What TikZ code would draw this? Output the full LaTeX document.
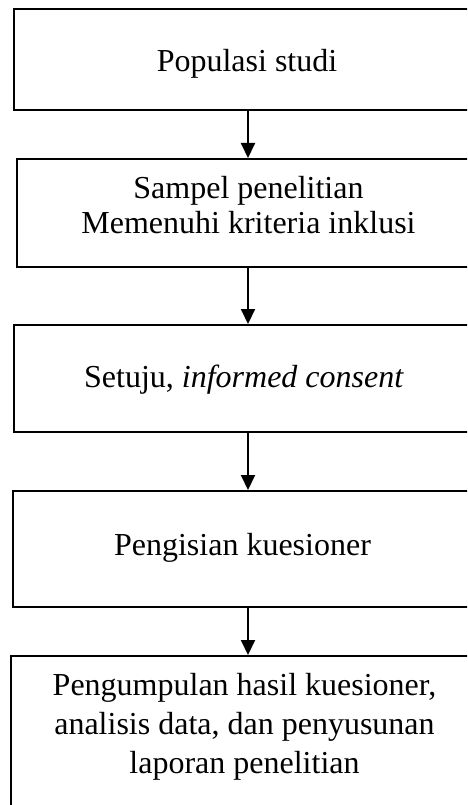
\documentclass[tikz,border=0pt]{standalone}
\usepackage{fontspec}
\setmainfont{Liberation Serif}
\usetikzlibrary{arrows.meta}
\tikzset{
  box/.style={draw=black, line width=2pt, rectangle, inner sep=0pt},
  txt/.style={anchor=north, align=center, inner sep=0pt, font={\fontsize{32}{35}\selectfont}},
  arr/.style={draw=black, line width=2pt, -{Triangle[width=14pt,length=15pt]}}
}
\begin{document}
\begin{tikzpicture}[x=1pt,y=-1pt]
\useasboundingbox (0,0) rectangle (467,805);
\clip (0,0) rectangle (467,805);
\node[box, minimum width=468pt, minimum height=101pt] (b1) at (248,59.5) {};
\node[box, minimum width=462pt, minimum height=108pt] (b2) at (248,213) {};
\node[box, minimum width=468pt, minimum height=107pt] (b3) at (248,378.5) {};
\node[box, minimum width=470pt, minimum height=116pt] (b4) at (248,549) {};
\node[box, minimum width=474pt, minimum height=152pt] (b5) at (248,732) {};
\node[txt] (t1) at (247,49) {Populasi studi};
\node[txt] (t2) at (248.5,176) {Sampel penelitian\\Memenuhi kriteria inklusi};
\node[txt] (t3) at (244,365) {Setuju, \textit{informed consent}};
\node[txt] (t4) at (242.5,533) {Pengisian kuesioner};
\node[txt, font={\fontsize{32}{39}\selectfont}] (t5) at (244.5,673) {Pengumpulan hasil kuesioner,\\analisis data, dan penyusunan\\laporan penelitian};
\draw[arr] (b1.south) -- (b1.south |- b2.north);
\draw[arr] (b2.south) -- (b2.south |- b3.north);
\draw[arr] (b3.south) -- (b3.south |- b4.north);
\draw[arr] (b4.south) -- (b4.south |- b5.north);
\end{tikzpicture}
\end{document}
